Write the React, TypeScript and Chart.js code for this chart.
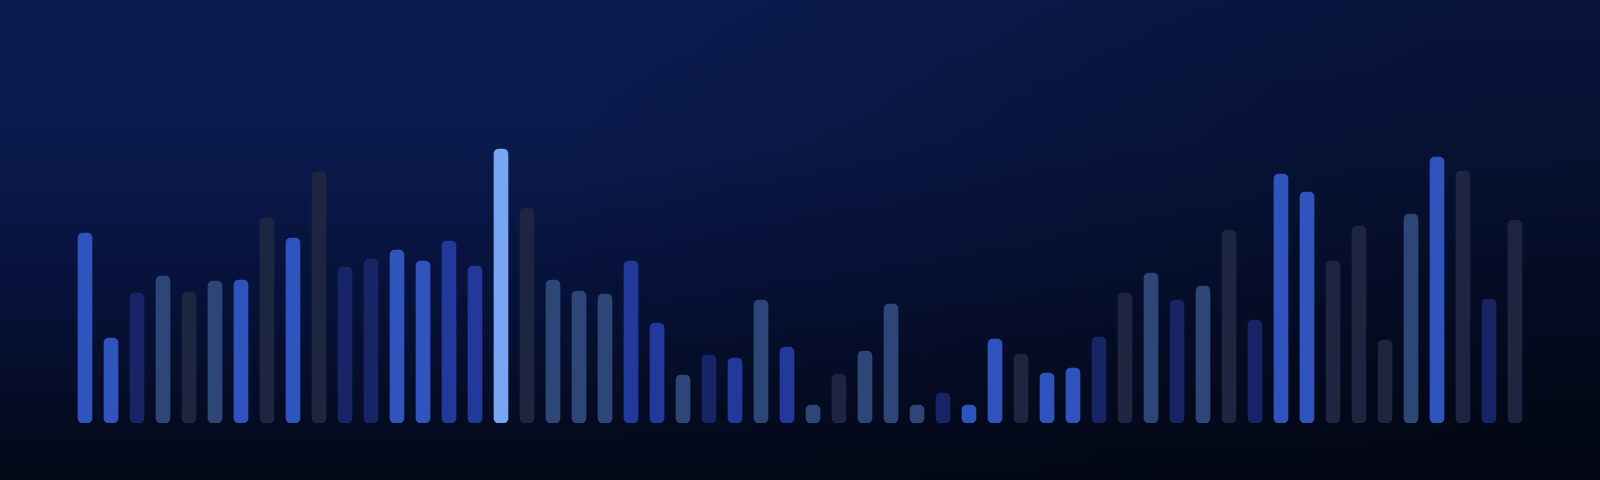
import React, { useEffect, useRef } from "react";
import { Chart, registerables } from "chart.js";

Chart.register(...registerables);

// 56 bars, left to right
const categories: string[] = Array.from({ length: 56 }, (_, i) => `#${i + 1}`);

const values: number[] = [
  190, 85, 130, 147, 131, 142, 143, 205, 185, 251,
  156, 164, 173, 162, 182, 157, 274, 215, 143, 132,
  129, 162, 100, 48, 68, 65, 123, 76, 18, 49,
  72, 119, 18, 30, 18, 84, 69, 50, 55, 86,
  130, 150, 123, 137, 193, 103, 249, 231, 162, 197,
  83, 209, 266, 252, 124, 203,
];

// group of each bar
const groups: string[] = [
  "B", "B", "N", "S", "D", "S", "B", "D", "B", "D",
  "N", "N", "B", "B", "M", "M", "H", "D", "S", "S",
  "S", "M", "M", "S", "N", "M", "S", "M", "S", "D",
  "S", "S", "S", "N", "B", "B", "D", "B", "B", "N",
  "D", "S", "N", "S", "D", "N", "B", "B", "D", "D",
  "D", "S", "B", "D", "N", "D",
];

const palette: Record<string, string> = {
  B: "#2f54bd",
  N: "#172566",
  S: "#2e4577",
  D: "#1e2540",
  M: "#22389b",
  H: "#78a6f5",
};

const bgPlugin = {
  id: "bgPlugin",
  beforeDraw(chart: any) {
    const { ctx, width, height } = chart;
    ctx.save();
    const g = ctx.createLinearGradient(0, 0, 0, height);
    g.addColorStop(0, "#0b1c52");
    g.addColorStop(0.3, "#0a1a4c");
    g.addColorStop(0.6, "#07123a");
    g.addColorStop(0.85, "#050c24");
    g.addColorStop(1, "#040918");
    ctx.fillStyle = g;
    ctx.fillRect(0, 0, width, height);
    const r = ctx.createRadialGradient(width, height, 0, width, height, 1100);
    r.addColorStop(0, "rgba(2,5,14,0.6)");
    r.addColorStop(1, "rgba(2,5,14,0)");
    ctx.fillStyle = r;
    ctx.fillRect(0, 0, width, height);
    ctx.restore();
  },
};

export default function App() {
  const ref = useRef<HTMLCanvasElement | null>(null);
  useEffect(() => {
    document.body.style.margin = "0";
    const chart = new Chart(ref.current!, {
      type: "bar",
      data: {
        labels: categories,
        datasets: [
          {
            data: values,
            backgroundColor: groups.map((g) => palette[g]),
            borderRadius: 5,
            borderSkipped: false,
            barThickness: 14,
          },
        ],
      },
      options: {
        animation: false,
        responsive: false,
        maintainAspectRatio: false,
        layout: { padding: { left: 72, right: 72, top: 0, bottom: 57 } },
        plugins: { legend: { display: false }, tooltip: { enabled: false } },
        scales: {
          x: { display: false, offset: true, grid: { display: false } },
          y: { display: false, min: 0, max: 423 },
        },
      },
      plugins: [bgPlugin],
    });
    return () => chart.destroy();
  }, []);
  return (
    <div style={{ position: "absolute", left: 0, top: 0, width: 1600, height: 480 }}>
      <canvas ref={ref} width={1600} height={480} style={{ display: "block" }} />
    </div>
  );
}
